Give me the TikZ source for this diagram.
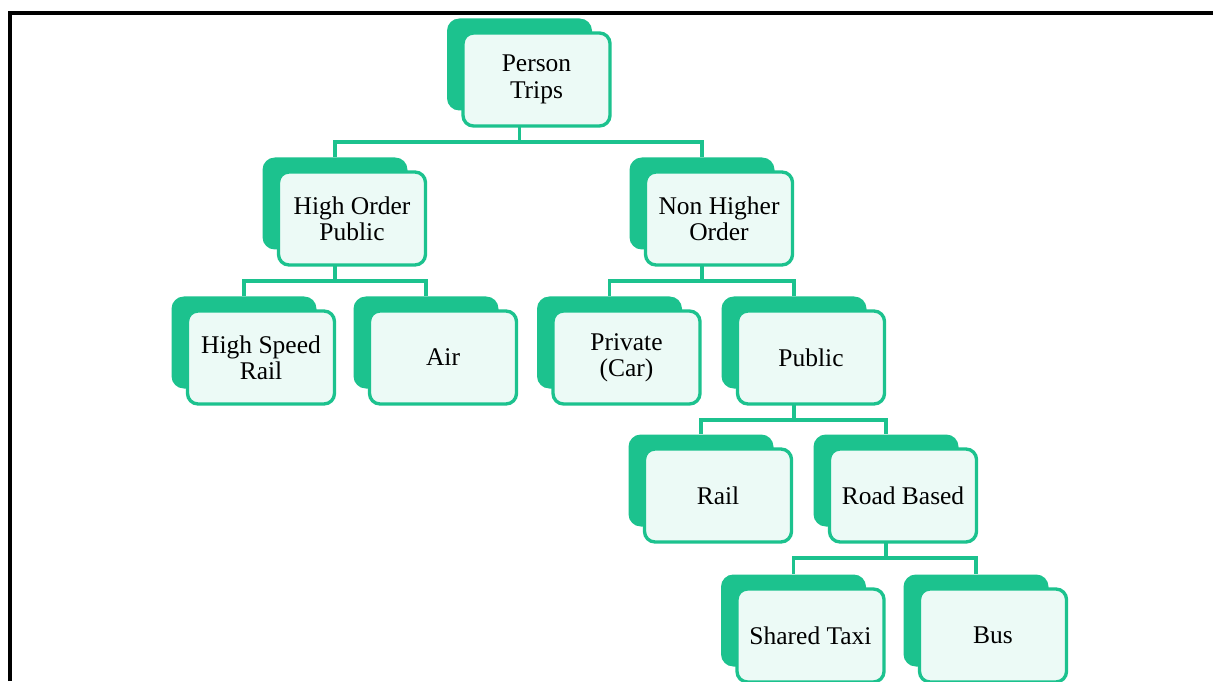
\documentclass[tikz,border=0pt]{standalone}
\usepackage{fontspec}
\setmainfont{Liberation Serif}
\usetikzlibrary{backgrounds}
\definecolor{tgreen}{RGB}{28,194,142}
\definecolor{tmint}{RGB}{236,250,246}
\begin{document}
\begin{tikzpicture}[
   x=1cm,y=1cm,
   shade/.style={fill=tgreen,rounded corners=7pt,minimum width=2.9cm,minimum height=1.84cm,inner sep=0pt},
   box/.style={draw=tgreen,fill=tmint,line width=1.9pt,rounded corners=6pt,
     minimum width=2.94cm,minimum height=1.86cm,inner sep=2pt,align=center},
   link/.style={draw=tgreen,line width=2pt},
   frame/.style={draw=black,line width=2.2pt},
   every node/.style={font=\fontsize{14.5}{15}\selectfont}
 ]
  \useasboundingbox (0,0) rectangle (24.26,13.62);
  \draw[frame] (0.2,0) -- (0.2,13.36) -- (24.26,13.36);
  % level 1
  \node[shade] (pt-s) at (10.39,12.33) {};
  \node[box] (pt) at (10.73,12.03) {Person\\Trips};
  % level 2
  \node[shade] (hop-s) at (6.70,9.55) {};
  \node[box] (hop) at (7.04,9.25) {High Order\\Public};
  \node[shade] (nho-s) at (14.04,9.55) {};
  \node[box] (nho) at (14.38,9.25) {Non Higher\\Order};
  % level 3
  \node[shade] (hsr-s) at (4.88,6.77) {};
  \node[box] (hsr) at (5.22,6.47) {High Speed\\Rail};
  \node[shade] (air-s) at (8.52,6.77) {};
  \node[box] (air) at (8.86,6.47) {Air};
  \node[shade] (car-s) at (12.19,6.77) {};
  \node[box] (car) at (12.53,6.47) {Private\\(Car)};
  \node[shade] (pub-s) at (15.88,6.77) {};
  \node[box] (pub) at (16.22,6.47) {Public};
  % level 4
  \node[shade] (rail-s) at (14.02,4.01) {};
  \node[box] (rail) at (14.36,3.71) {Rail};
  \node[shade] (road-s) at (17.72,4.01) {};
  \node[box] (road) at (18.06,3.71) {Road Based};
  % level 5
  \node[shade] (taxi-s) at (15.87,1.21) {};
  \node[box] (taxi) at (16.21,0.91) {Shared Taxi};
  \node[shade] (bus-s) at (19.52,1.21) {};
  \node[box] (bus) at (19.86,0.91) {Bus};
  % connectors
  \begin{pgfonlayer}{background}
    \coordinate (j1) at (10.39,10.78);
    \coordinate (j2) at (6.70,8.0);
    \coordinate (j3) at (14.04,8.0);
    \coordinate (j4) at (15.88,5.22);
    \coordinate (j5) at (17.72,2.46);
    \draw[link] (pt-s) -- (j1);
    \draw[link] (j1) -| (hop-s);
    \draw[link] (j1) -| (nho-s);
    \draw[link] (hop-s) -- (j2);
    \draw[link] (j2) -| (hsr-s);
    \draw[link] (j2) -| (air-s);
    \draw[link] (nho-s) -- (j3);
    \draw[link] (j3) -| (car-s);
    \draw[link] (j3) -| (pub-s);
    \draw[link] (pub-s) -- (j4);
    \draw[link] (j4) -| (rail-s);
    \draw[link] (j4) -| (road-s);
    \draw[link] (road-s) -- (j5);
    \draw[link] (j5) -| (taxi-s);
    \draw[link] (j5) -| (bus-s);
  \end{pgfonlayer}
 \end{tikzpicture}
\end{document}
